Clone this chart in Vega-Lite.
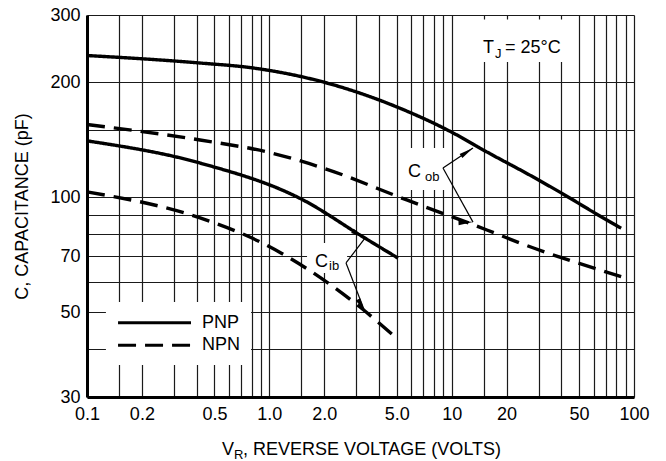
{
  "$schema": "https://vega.github.io/schema/vega-lite/v6.json",
  "width": 547,
  "height": 382,
  "autosize": {"type": "none"},
  "padding": {"left": 87, "top": 15, "right": 32, "bottom": 64},
  "background": "white",
  "config": {
    "view": {"stroke": null},
    "font": "Liberation Sans, Arial, Helvetica, sans-serif",
    "text": {"font": "Liberation Sans, Arial, Helvetica, sans-serif", "color": "black"}
  },
  "datasets": {
    "curves": [
      {"series": "PNP Cob", "device": "PNP", "v": 0.1, "c": 235},
      {"series": "PNP Cob", "device": "PNP", "v": 0.417, "c": 224.6},
      {"series": "PNP Cob", "device": "PNP", "v": 0.814, "c": 218},
      {"series": "PNP Cob", "device": "PNP", "v": 2.0, "c": 200},
      {"series": "PNP Cob", "device": "PNP", "v": 5.21, "c": 171},
      {"series": "PNP Cob", "device": "PNP", "v": 10.2, "c": 147.3},
      {"series": "PNP Cob", "device": "PNP", "v": 14.9, "c": 133},
      {"series": "PNP Cob", "device": "PNP", "v": 28, "c": 113},
      {"series": "PNP Cob", "device": "PNP", "v": 40.8, "c": 102},
      {"series": "PNP Cob", "device": "PNP", "v": 59.7, "c": 91.5},
      {"series": "PNP Cob", "device": "PNP", "v": 85, "c": 83},
      {"series": "NPN Cob", "device": "NPN", "v": 0.1, "c": 155},
      {"series": "NPN Cob", "device": "NPN", "v": 0.417, "c": 141.2},
      {"series": "NPN Cob", "device": "NPN", "v": 1.0, "c": 131},
      {"series": "NPN Cob", "device": "NPN", "v": 2.0, "c": 119},
      {"series": "NPN Cob", "device": "NPN", "v": 5.67, "c": 98.4},
      {"series": "NPN Cob", "device": "NPN", "v": 15.6, "c": 82.1},
      {"series": "NPN Cob", "device": "NPN", "v": 23.7, "c": 75.9},
      {"series": "NPN Cob", "device": "NPN", "v": 85, "c": 62},
      {"series": "PNP Cib", "device": "PNP", "v": 0.1, "c": 140.5},
      {"series": "PNP Cib", "device": "PNP", "v": 0.417, "c": 122.9},
      {"series": "PNP Cib", "device": "PNP", "v": 1.53, "c": 98.4},
      {"series": "PNP Cib", "device": "PNP", "v": 3.27, "c": 78.7},
      {"series": "PNP Cib", "device": "PNP", "v": 5.08, "c": 69.3},
      {"series": "NPN Cib", "device": "NPN", "v": 0.1, "c": 103.3},
      {"series": "NPN Cib", "device": "NPN", "v": 0.417, "c": 88.3},
      {"series": "NPN Cib", "device": "NPN", "v": 0.889, "c": 76.4},
      {"series": "NPN Cib", "device": "NPN", "v": 3.14, "c": 51.6},
      {"series": "NPN Cib", "device": "NPN", "v": 4.89, "c": 43.1}
    ],
    "blanks": [
      {"box": "legend", "v": 0.127, "v2": 0.794, "c": 53.2, "c2": 36.4},
      {"box": "tj", "v": 12.6, "v2": 47.5, "c": 292, "c2": 226},
      {"box": "cob", "v": 5.55, "v2": 9.2, "c": 134.6, "c2": 104.5},
      {"box": "cib", "v": 1.61, "v2": 2.67, "c": 75.9, "c2": 63.3}
    ],
    "key": [
      {"device": "PNP", "v": 0.148, "v2": 0.372, "c": 46.9},
      {"device": "NPN", "v": 0.148, "v2": 0.372, "c": 41.0}
    ],
    "arrows": [
      {"arrow": "cob-pnp", "v": 13.09, "c": 134.6, "v2": 8.96, "c2": 119.3},
      {"arrow": "cob-npn", "v": 13.09, "c": 86.1, "v2": 8.96, "c2": 119.3},
      {"arrow": "cib-pnp", "v": 3.347, "c": 78.2, "v2": 2.634, "c2": 67.3},
      {"arrow": "cib-npn", "v": 3.347, "c": 50.07, "v2": 2.634, "c2": 67.3}
    ],
    "notes": [
      {"role": "base", "t": "T", "v": 14.86, "c": 238.6},
      {"role": "sub", "t": "J", "v": 17.29, "c": 231.5},
      {"role": "base", "t": "= 25°C", "v": 19.61, "c": 238.6},
      {"role": "base", "t": "C", "v": 5.76, "c": 113.0},
      {"role": "sub", "t": "ob", "v": 7.14, "c": 110.3},
      {"role": "base", "t": "C", "v": 1.78, "c": 65.7},
      {"role": "sub", "t": "ib", "v": 2.125, "c": 64.5},
      {"role": "base", "t": "V", "v": 0.55, "c": 21.15},
      {"role": "sub", "t": "R", "v": 0.64, "c": 20.65},
      {"role": "base", "t": ", REVERSE VOLTAGE (VOLTS)", "v": 0.717, "c": 21.15}
    ]
  },
  "encoding": {
    "x": {
      "field": "v",
      "type": "quantitative",
      "scale": {"type": "log", "domain": [0.1, 100], "nice": false},
      "axis": {
        "title": null,
        "values": [0.1, 0.15, 0.2, 0.3, 0.4, 0.5, 0.6, 0.7, 0.8, 0.9, 1, 1.5, 2, 3, 4, 5, 6, 7, 8, 9, 10, 15, 20, 30, 40, 50, 60, 70, 80, 90, 100],
        "labelExpr": "indexof([0.1, 0.2, 0.5, 1, 2, 5, 10, 20, 50, 100], datum.value) < 0 ? '' : (datum.value < 10 ? format(datum.value, '.1f') : format(datum.value, 'd'))",
        "labelOverlap": false,
        "labelFlush": false,
        "labelFontSize": 18,
        "labelColor": "black",
        "labelPadding": 8,
        "ticks": false,
        "grid": true,
        "gridColor": "#1a1a1a",
        "gridWidth": 1.2,
        "gridOpacity": 1,
        "domainColor": "black",
        "domainWidth": 3
      }
    },
    "y": {
      "field": "c",
      "type": "quantitative",
      "scale": {"type": "log", "domain": [30, 300], "nice": false},
      "axis": {
        "title": "C, CAPACITANCE (pF)",
        "titleFontSize": 18,
        "titleFontWeight": "normal",
        "titleColor": "black",
        "titlePadding": 18,
        "values": [30, 40, 50, 60, 70, 80, 90, 100, 150, 200, 300],
        "labelExpr": "indexof([30, 50, 70, 100, 200, 300], datum.value) < 0 ? '' : format(datum.value, 'd')",
        "labelOverlap": false,
        "labelFlush": false,
        "labelFontSize": 18,
        "labelColor": "black",
        "labelPadding": 7,
        "ticks": false,
        "grid": true,
        "gridColor": "#1a1a1a",
        "gridWidth": 1.2,
        "gridOpacity": 1,
        "domainColor": "black",
        "domainWidth": 3
      }
    }
  },
  "layer": [
    {
      "data": {"name": "blanks"},
      "mark": {"type": "rect", "fill": "white", "stroke": null},
      "encoding": {"x2": {"field": "v2"}, "y2": {"field": "c2"}}
    },
    {
      "data": {"name": "curves"},
      "mark": {"type": "line", "color": "black", "strokeWidth": 3.4, "interpolate": "monotone", "strokeCap": "butt"},
      "encoding": {
        "detail": {"field": "series"},
        "strokeDash": {"field": "device", "type": "nominal", "scale": {"domain": ["PNP", "NPN"], "range": [[1, 0], [18, 9]]}, "legend": null}
      }
    },
    {
      "data": {"name": "key"},
      "mark": {"type": "rule", "color": "black", "strokeWidth": 3, "strokeCap": "butt"},
      "encoding": {
        "x2": {"field": "v2"},
        "strokeDash": {"field": "device", "type": "nominal", "legend": null}
      }
    },
    {
      "data": {"name": "key"},
      "mark": {"type": "text", "align": "left", "baseline": "middle", "dx": 11, "fontSize": 18},
      "encoding": {"x": {"field": "v2", "type": "quantitative"}, "text": {"field": "device"}}
    },
    {
      "data": {"name": "arrows"},
      "mark": {"type": "rule", "color": "black", "strokeWidth": 1.2},
      "encoding": {"x2": {"field": "v2"}, "y2": {"field": "c2"}}
    },
    {
      "data": {"name": "arrows"},
      "mark": {"type": "point", "shape": "M0,0L0.34,2L-0.34,2Z", "filled": true, "color": "black", "opacity": 1, "size": 210},
      "encoding": {
        "angle": {"field": "arrow", "type": "nominal", "scale": {"domain": ["cob-pnp", "cob-npn", "cib-pnp", "cib-npn"], "range": [56, 151, 37, 159]}, "legend": null}
      }
    },
    {
      "data": {"name": "notes"},
      "transform": [{"filter": "datum.role === 'base'"}],
      "mark": {"type": "text", "align": "left", "baseline": "alphabetic", "fontSize": 18, "clip": false},
      "encoding": {"text": {"field": "t"}}
    },
    {
      "data": {"name": "notes"},
      "transform": [{"filter": "datum.role === 'sub'"}],
      "mark": {"type": "text", "align": "left", "baseline": "alphabetic", "fontSize": 13, "clip": false},
      "encoding": {"text": {"field": "t"}}
    }
  ]
}
